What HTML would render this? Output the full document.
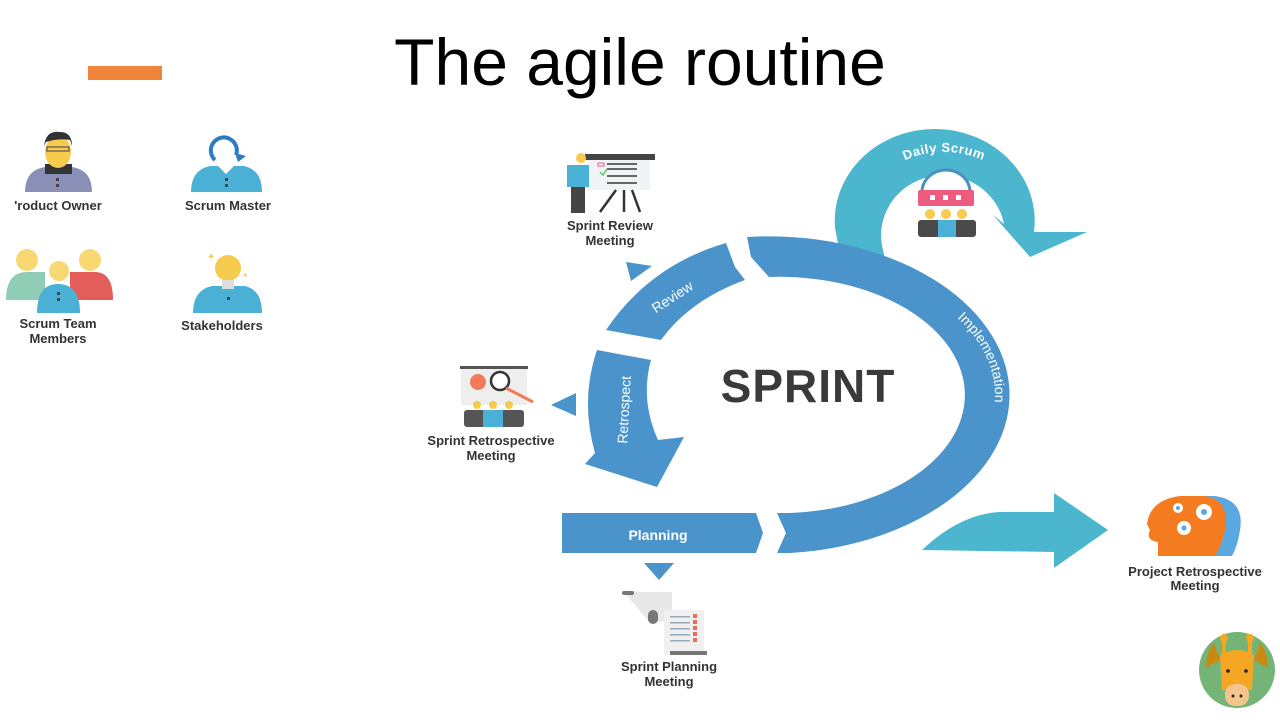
<!DOCTYPE html>
<html><head><meta charset="utf-8"><style>
html,body{margin:0;padding:0;background:#fff;}
svg{display:block;}
.lb{font-family:"Liberation Sans",sans-serif;font-weight:bold;font-size:13px;fill:#333;text-anchor:middle;}
</style></head><body>
<svg width="1280" height="720" viewBox="0 0 1280 720" xmlns="http://www.w3.org/2000/svg">
<rect width="1280" height="720" fill="#fff"/>
<text x="640" y="85" font-family="Liberation Sans,sans-serif" font-size="66" fill="#000" text-anchor="middle">The agile routine</text>
<rect x="88" y="66" width="74" height="14" fill="#F0843A"/>

<!-- Product owner -->
<g>
<path d="M25 192 Q25 170 45 167 L72 167 Q92 170 92 192 Z" fill="#8A8FB8"/>
<rect x="45" y="164" width="27" height="10" fill="#333"/>
<ellipse cx="58" cy="152" rx="13" ry="16" fill="#F7CB4D"/>
<path d="M44 146 Q46 130 60 132 Q72 132 72 146 L70 140 Q58 138 46 142 Z" fill="#333"/>
<rect x="47" y="147" width="22" height="4" fill="none" stroke="#555" stroke-width="1.2"/>
<rect x="56" y="178" width="3" height="3" fill="#444"/><rect x="56" y="184" width="3" height="3" fill="#444"/>
</g>
<text class="lb" x="58" y="210">'roduct Owner</text>
<!-- Scrum master -->
<g>
<path d="M191 192 Q191 170 210 166 L244 166 Q262 170 262 192 Z" fill="#4BB0D6"/>
<path d="M215 160 A13 13 0 1 1 236 155" fill="none" stroke="#2D7CC2" stroke-width="4"/>
<path d="M235 153 L246 156 L238 162 Z" fill="#2D7CC2"/>
<path d="M218 166 L226 174 L234 166 Z" fill="#fff"/>
<rect x="225" y="178" width="3" height="3" fill="#444"/><rect x="225" y="184" width="3" height="3" fill="#444"/>
</g>
<text class="lb" x="228" y="210">Scrum Master</text>
<!-- Team -->
<g>
<circle cx="27" cy="260" r="11" fill="#F7D872"/><circle cx="90" cy="260" r="11" fill="#F7D872"/>
<path d="M6 300 Q6 272 27 272 L45 272 L45 300 Z" fill="#8FCDB7"/>
<path d="M70 300 L70 272 L95 272 Q113 272 113 300 Z" fill="#E35D5B"/>
<circle cx="59" cy="271" r="10" fill="#F7D872"/>
<path d="M37 313 Q37 284 58 284 Q80 284 80 313 Z" fill="#4BB0D6"/>
<rect x="57" y="292" width="3" height="3" fill="#444"/><rect x="57" y="298" width="3" height="3" fill="#444"/>
</g>
<text class="lb" x="58" y="328">Scrum Team</text>
<text class="lb" x="58" y="343">Members</text>
<!-- Stakeholders -->
<g>
<path d="M193 313 Q193 290 212 286 L245 286 Q262 290 262 313 Z" fill="#4BB0D6"/>
<circle cx="228" cy="268" r="13" fill="#F7CB4D"/>
<rect x="222" y="280" width="12" height="9" fill="#ddd"/>
<text x="207" y="260" font-size="10" fill="#F7CB4D" font-family="DejaVu Sans">✦</text>
<text x="242" y="278" font-size="8" fill="#F7CB4D" font-family="DejaVu Sans">✦</text>
<rect x="227" y="297" width="3" height="3" fill="#444"/>
</g>
<text class="lb" x="222" y="330">Stakeholders</text>

<!-- Daily scrum ring -->
<path d="M845 280 L835 228 A100 92 0 1 1 1034 232 L1087 232 L1030 257 L993 215 L1004 224 A62 60 0 1 0 883 250 L892 290 Z" fill="#4DB6CF"/>
<defs><path id="ds" d="M866 214 A78 62 0 0 1 1022 214"/>
<path id="imp" d="M790 262 A205 133 0 0 1 790 528"/></defs>
<text font-family="Liberation Sans,sans-serif" font-weight="bold" font-size="13" fill="#fff" letter-spacing="0.5"><textPath href="#ds" startOffset="50%" text-anchor="middle">Daily Scrum</textPath></text>
<!-- daily icon -->
<g>
<path d="M922 192 A24 22 0 0 1 970 192 Z" fill="#fff" stroke="#4a90c0" stroke-width="3"/>
<rect x="918" y="190" width="56" height="16" rx="2" fill="#EE5B7E"/>
<rect x="930" y="195" width="5" height="5" fill="#fff"/><rect x="943" y="195" width="5" height="5" fill="#fff"/><rect x="956" y="195" width="5" height="5" fill="#fff"/>
<circle cx="930" cy="214" r="5" fill="#F7CB4D"/><circle cx="946" cy="214" r="5" fill="#F7CB4D"/><circle cx="962" cy="214" r="5" fill="#F7CB4D"/>
<rect x="918" y="220" width="58" height="17" rx="3" fill="#4a4a4a"/>
<rect x="938" y="220" width="18" height="17" fill="#4BB0D6"/>
</g>

<!-- Sprint ring -->
<path d="M747 237 A240 158 0 1 1 790 553 L777 553 L786 533 L777 513 L790 513 A185 118 0 1 0 769 277 L751 257 Z" fill="#4A93CB"/>
<path d="M726 243 L735 267 L745 280 Q690 300 661 340 L606 330 Q650 265 726 243 Z" fill="#4A93CB"/>
<path d="M597 350 L651 360 Q640 400 658 440 L684 437 L657 487 L585 464 L595 453 Q580 400 597 350 Z" fill="#4A93CB"/>
<path d="M562 513 L756 513 L763 533 L756 553 L562 553 Z" fill="#4A93CB"/>
<text x="658" y="540" font-family="Liberation Sans,sans-serif" font-weight="bold" font-size="14" fill="#fff" text-anchor="middle">Planning</text>
<text transform="translate(675,301) rotate(-33)" font-family="Liberation Sans,sans-serif" font-size="14" fill="#fff" text-anchor="middle">Review</text>
<text transform="translate(629,410) rotate(-87)" font-family="Liberation Sans,sans-serif" font-size="14" fill="#fff" text-anchor="middle">Retrospect</text>
<text font-family="Liberation Sans,sans-serif" font-size="14" fill="#fff"><textPath href="#imp" startOffset="180">Implementation</textPath></text>
<text x="808" y="402" font-family="Liberation Sans,sans-serif" font-weight="bold" font-size="46" fill="#3a3a3a" text-anchor="middle" letter-spacing="1">SPRINT</text>

<!-- small triangles -->
<path d="M626 262 L652 266 L631 281 Z" fill="#4A93CB"/>
<path d="M551 405 L576 393 L576 416 Z" fill="#4A93CB"/>
<path d="M644 563 L674 563 L659 580 Z" fill="#4A93CB"/>

<!-- big arrow -->
<path d="M922 550 Q960 514 1000 512 L1054 512 L1054 493 L1108 530 L1054 568 L1054 552 Z" fill="#4DB6CF"/>

<!-- Sprint review icon -->
<g>
<rect x="585" y="154" width="70" height="6" fill="#444"/>
<rect x="588" y="160" width="62" height="30" fill="#f2f3f6"/>
<rect x="598" y="163" width="6" height="3" fill="none" stroke="#EE5B7E"/>
<rect x="607" y="163" width="30" height="2" fill="#666"/><rect x="607" y="168" width="30" height="2" fill="#666"/>
<rect x="607" y="175" width="30" height="2" fill="#666"/><rect x="607" y="182" width="30" height="2" fill="#666"/>
<path d="M600 172 L603 175 L607 169" stroke="#5CC460" stroke-width="1.5" fill="none"/>
<path d="M616 190 L600 212 M624 190 L624 212 M632 190 L640 212" stroke="#333" stroke-width="2.5"/>
<circle cx="581" cy="158" r="5" fill="#F7CB4D"/>
<rect x="567" y="165" width="22" height="22" fill="#4BB0D6"/>
<rect x="571" y="187" width="14" height="26" fill="#444"/>
</g>
<text class="lb" x="610" y="230">Sprint Review</text>
<text class="lb" x="610" y="245">Meeting</text>

<!-- Retro icon -->
<g>
<rect x="460" y="366" width="68" height="3" fill="#555"/>
<rect x="461" y="369" width="66" height="36" fill="#eee"/>
<circle cx="478" cy="382" r="8" fill="#F07A5A"/>
<circle cx="500" cy="381" r="9" fill="#fff" stroke="#333" stroke-width="2.5"/>
<path d="M506 388 L533 402" stroke="#F07A5A" stroke-width="3"/>
<circle cx="477" cy="405" r="4" fill="#F7CB4D"/><circle cx="493" cy="405" r="4" fill="#F7CB4D"/><circle cx="509" cy="405" r="4" fill="#F7CB4D"/>
<rect x="464" y="410" width="60" height="17" rx="3" fill="#555"/>
<rect x="483" y="410" width="20" height="17" fill="#4BB0D6"/>
</g>
<text class="lb" x="491" y="445">Sprint Retrospective</text>
<text class="lb" x="491" y="460">Meeting</text>

<!-- Planning icon -->
<g>
<path d="M625 593 Q628 590 640 592 L672 592 L672 620 L650 623 Z" fill="#e8e8e8"/>
<rect x="622" y="591" width="12" height="4" rx="2" fill="#777"/>
<rect x="648" y="610" width="10" height="14" rx="5" fill="#777"/>
<rect x="664" y="610" width="40" height="44" fill="#f0f0f0"/>
<g fill="#9ab"><rect x="670" y="616" width="20" height="1.5"/><rect x="670" y="622" width="20" height="1.5"/><rect x="670" y="628" width="20" height="1.5"/><rect x="670" y="634" width="20" height="1.5"/><rect x="670" y="640" width="20" height="1.5"/></g>
<g fill="#EE6A5A"><rect x="693" y="614" width="4" height="4"/><rect x="693" y="620" width="4" height="4"/><rect x="693" y="626" width="4" height="4"/><rect x="693" y="632" width="4" height="4"/><rect x="693" y="638" width="4" height="4"/></g>
<rect x="670" y="651" width="37" height="4" fill="#777"/>
</g>
<text class="lb" x="669" y="671">Sprint Planning</text>
<text class="lb" x="669" y="686">Meeting</text>

<!-- Project retro icon -->
<g>
<path d="M1170 556 L1170 540 Q1156 540 1160 530 L1155 524 Q1160 500 1185 496 L1215 496 Q1245 500 1240 530 Q1238 545 1232 556 Z" fill="#5AA8E0"/>
<path d="M1158 556 L1158 542 Q1145 540 1150 530 L1147 524 Q1150 500 1180 496 L1205 496 Q1230 500 1225 530 Q1222 545 1215 556 Z" fill="#F47B20"/>
<circle cx="1204" cy="512" r="8" fill="#fff"/><circle cx="1204" cy="512" r="3" fill="#5AA8E0"/>
<circle cx="1178" cy="508" r="5" fill="#fff"/><circle cx="1178" cy="508" r="2" fill="#5AA8E0"/>
<circle cx="1184" cy="528" r="7" fill="#fff"/><circle cx="1184" cy="528" r="2.5" fill="#5AA8E0"/>
</g>
<text class="lb" x="1195" y="576">Project Retrospective</text>
<text class="lb" x="1195" y="590">Meeting</text>

<!-- giraffe -->
<circle cx="1237" cy="670" r="38" fill="#74B577"/>
<path d="M1214 643 L1220 660 L1206 668 Q1206 652 1214 643 Z" fill="#C88A12"/>
<path d="M1260 643 L1254 660 L1268 668 Q1268 652 1260 643 Z" fill="#C88A12"/>
<rect x="1222" y="640" width="4" height="15" fill="#F5A623"/><rect x="1248" y="640" width="4" height="15" fill="#F5A623"/>
<circle cx="1224" cy="638" r="4" fill="#F5A623"/><circle cx="1250" cy="638" r="4" fill="#F5A623"/>
<path d="M1220 655 Q1237 645 1254 655 L1252 690 L1222 690 Z" fill="#F5A623"/>
<circle cx="1228" cy="671" r="1.8" fill="#222"/><circle cx="1246" cy="671" r="1.8" fill="#222"/>
<rect x="1225" y="684" width="24" height="22" rx="10" fill="#F3C58C"/>
<circle cx="1233" cy="696" r="1.5" fill="#222"/><circle cx="1241" cy="696" r="1.5" fill="#222"/>
</svg>
</body></html>
